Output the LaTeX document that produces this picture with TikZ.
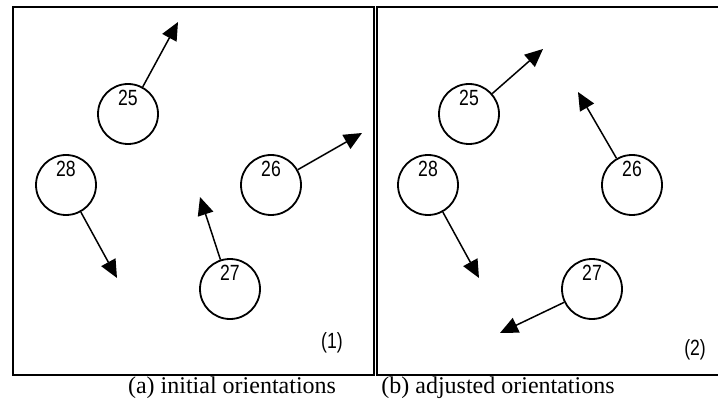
\documentclass[tikz,border=0pt]{standalone}
\usepackage{fontspec}
\setmainfont{Liberation Serif}
\newfontfamily\numfont[FakeStretch=0.8]{Liberation Sans}
\usetikzlibrary{arrows.meta}
\tikzset{%
    >={Triangle[width=8pt,length=9pt]},
    disco/.style   = {circle, draw=black, line width=0.9pt,
                      minimum size=30pt, inner sep=0pt},
    numero/.style  = {font=\numfont\fontsize{11}{12}\selectfont, inner sep=0pt},
    seta/.style    = {->, line width=0.75pt},
    quadro/.style  = {draw=black, line width=1pt},
    legenda/.style = {font=\fontsize{12}{14}\selectfont, inner sep=0pt},
}

\begin{document}
\begin{tikzpicture}[x=0.5pt, y=-0.5pt]
    \useasboundingbox (0,0) rectangle (718,401);

    % quadros
    \draw[quadro] (13,7) rectangle (374,375);
    \draw[quadro] (724,7) -- (377,7) -- (377,375) -- (724,375);

    % (a) orientacoes iniciais
    \node (a25) [disco] at (128,114) {};
    \node (a28) [disco] at (66,185)  {};
    \node (a26) [disco] at (271,185) {};
    \node (a27) [disco] at (230,289) {};
    \node (na25) [numero, yshift=8pt] at (a25) {25};
    \node (na28) [numero, yshift=8pt] at (a28) {28};
    \node (na26) [numero, yshift=8pt] at (a26) {26};
    \node (na27) [numero, yshift=8pt] at (a27) {27};
    \coordinate (ta25) at (178,22);
    \coordinate (ta26) at (362,133);
    \coordinate (ta27) at (200,197);
    \coordinate (ta28) at (117,278);
    \draw[seta] (a25) -- (ta25);
    \draw[seta] (a26) -- (ta26);
    \draw[seta] (a27) -- (ta27);
    \draw[seta] (a28) -- (ta28);
    \node (n1) [numero] at (332,343) {(1)};

    % (b) orientacoes ajustadas
    \node (b25) [disco] at (469,114) {};
    \node (b28) [disco] at (428,185) {};
    \node (b26) [disco] at (632,185) {};
    \node (b27) [disco] at (592,289) {};
    \node (nb25) [numero, yshift=8pt] at (b25) {25};
    \node (nb28) [numero, yshift=8pt] at (b28) {28};
    \node (nb26) [numero, yshift=8pt] at (b26) {26};
    \node (nb27) [numero, yshift=8pt] at (b27) {27};
    \coordinate (tb25) at (543,49);
    \coordinate (tb26) at (578,92);
    \coordinate (tb27) at (500,333);
    \coordinate (tb28) at (479,278);
    \draw[seta] (b25) -- (tb25);
    \draw[seta] (b26) -- (tb26);
    \draw[seta] (b27) -- (tb27);
    \draw[seta] (b28) -- (tb28);
    \node (n2) [numero] at (695,350) {(2)};

    % legendas
    \node (capa) [legenda] at (232,388) {(a) initial orientations};
    \node (capb) [legenda] at (498,388) {(b) adjusted orientations};
\end{tikzpicture}
\end{document}
